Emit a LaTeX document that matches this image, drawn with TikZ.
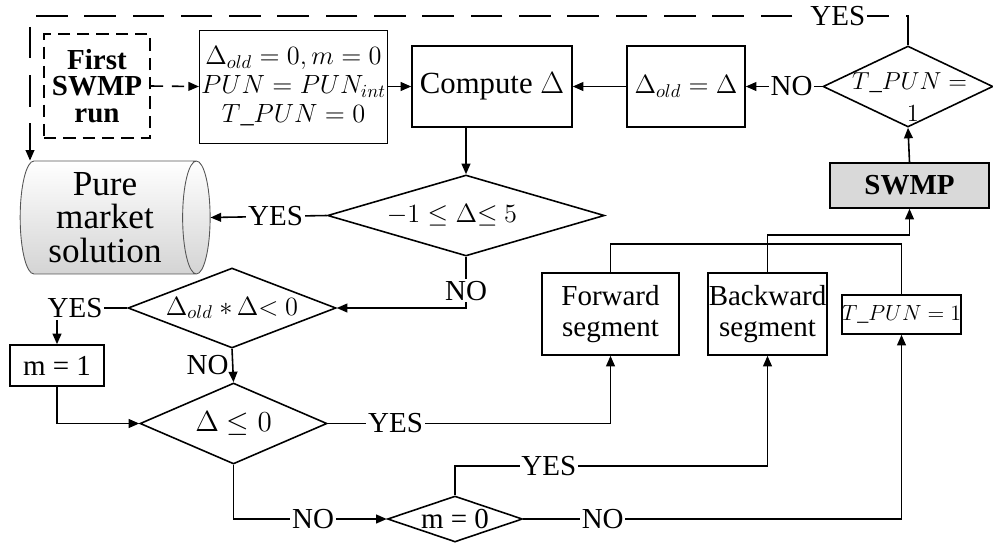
\RequirePackage{fix-cm}
\documentclass[tikz,border=0pt]{standalone}
\usepackage{fontspec}
\setmainfont{Liberation Serif}
\newfontfamily\diagfont{Liberation Serif}
\usepackage{tikz}
\usetikzlibrary{shapes.geometric, arrows.meta, positioning, calc}
\definecolor{swmpgray}{RGB}{217, 217, 217}
\definecolor{cylgray}{RGB}{212, 212, 212}
\definecolor{edgegray}{RGB}{85, 85, 85}

\tikzset{
    every node/.style={font=\diagfont\fontsize{16.5}{17.5}\selectfont},
    procbox/.style={draw, line width=0.9pt, align=center, inner sep=1pt},
    decision/.style={draw, diamond, line width=0.9pt, inner sep=0pt},
    lbl/.style={fill=white, inner sep=1pt},
    conn/.style={line width=0.9pt, -{Triangle[length=6pt, width=5pt]}},
    link/.style={line width=0.9pt}
}

\begin{document}
\begin{tikzpicture}[x=0.02cm, y=-0.02cm]
        \useasboundingbox (0,0) rectangle (993,545);

        % Start and initialisation
        \node[procbox, dash pattern=on 7pt off 4pt, minimum width=2.12cm, minimum height=2.08cm,
            font=\diagfont\fontsize{16.5}{15}\selectfont\bfseries] (first) at (97,86) {First\\SWMP\\run};
        \node[procbox, line width=0.5pt, minimum width=3.74cm, minimum height=2.26cm,
            font=\diagfont\fontsize{15}{16.5}\selectfont] (init) at (293.5,86.5)
            {$\Delta_{old}=0, m=0$\\$PUN=PUN_{int}$\\$T\_PUN=0$};
        \node[procbox, minimum width=3.2cm, minimum height=1.62cm,
            font=\diagfont\fontsize{17.5}{18}\selectfont] (comp) at (492,86.5) {Compute $\Delta$};
        \node[procbox, minimum width=2.36cm, minimum height=1.62cm,
            font=\diagfont\fontsize{15}{17}\selectfont] (dold) at (686,86.5) {$\Delta_{old}=\Delta$};

        % Top right decision and SWMP
        \node[decision, minimum width=3.4cm, minimum height=1.62cm] (dt) at (908,86.5) {};
        \node[align=center, font=\diagfont\fontsize{14}{17}\selectfont] (dttext) at (913,97) {$T\_PUN={}$\\[1pt]$1$};
        \node[procbox, fill=swmpgray, minimum width=3.18cm, minimum height=0.9cm,
            font=\diagfont\fontsize{16.5}{17}\selectfont\bfseries] (swmp) at (909.5,185.5) {SWMP};

        % Result store
        \node[cylinder, draw=edgegray, line width=0.5pt, top color=white, bottom color=cylgray,
            aspect=0.27, minimum height=3.8cm, minimum width=2.26cm, align=center,
            font=\diagfont\fontsize{20}{19}\selectfont] (pure) at (105,217.5) {Pure\\market\\solution};

        % Middle decisions
        \node[decision, minimum width=5.54cm, minimum height=1.62cm] (d1) at (466,215.5) {};
        \node[font=\diagfont\fontsize{15}{17}\selectfont] (d1text) at (452,215.5) {$-1\leq\Delta{\leq}\ 5$};
        \node[decision, minimum width=4.16cm, minimum height=1.6cm] (d2) at (232,308) {};
        \node[font=\diagfont\fontsize{15}{17}\selectfont] (d2text) at (232,308) {$\Delta_{old}\ {*}\,\Delta{<}\ 0$};
        \node[procbox, minimum width=1.88cm, minimum height=0.82cm] (mone) at (57,365.5) {m = 1};
        \node[decision, minimum width=3.74cm, minimum height=1.62cm] (d3) at (233.5,423.5) {};
        \node (d3text) at (233.5,423.5) {$\Delta\leq 0$};
        \node[decision, minimum width=2.7cm, minimum height=0.92cm] (d4) at (455,519) {};
        \node (d4text) at (455,519) {m = 0};

        % Segment boxes
        \node[procbox, minimum width=2.74cm, minimum height=1.64cm] (fwd) at (610.5,314) {Forward\\segment};
        \node[procbox, inner sep=0pt, minimum width=2.38cm, minimum height=1.64cm] (bwd) at (767.5,314) {Backward\\segment};
        \node[procbox, inner sep=0pt, minimum width=2.22cm, minimum height=0.78cm,
            font=\diagfont\fontsize{12.5}{15}\selectfont] (tpun) at (901.5,314.5) {$T\_PUN=1$};

        % Connectors
        \coordinate (corner) at (30,16);
        \draw[conn, dash pattern=on 18pt off 9.5pt] (dt.north) |- node[lbl, pos=0.54] {YES} (corner) -- (corner |- pure.north);
        \draw[conn, dash pattern=on 7pt off 5pt] (first.east) -- (init.west);
        \draw[conn] (init.east) -- (comp.west);
        \draw[conn] (dold.west) -- (comp.east);
        \draw[conn] (dt.west) -- node[lbl, pos=0.4] {NO} (dold.east);
        \draw[conn] (swmp.north) -- (dt.south);
        \draw[conn] (d1.north |- comp.south) -- (d1.north);
        \draw[conn] (d1.west) -- node[lbl, pos=0.44] {YES} (pure.east);
        \draw[conn] (d1.south) |- node[lbl, pos=0.33] {NO} (d2.east);
        \draw[conn] (d2.west) -| node[lbl, pos=0.5, xshift=0.36cm] {YES} (mone.north);
        \draw[conn] (mone.south) |- (d3.west);
        \draw[conn] (d2.south) -- node[left, inner sep=2pt] {NO} (d3.north);
        \draw[conn] (d3.east) -| node[lbl, pos=0.12] {YES} (fwd.south);
        \draw[conn] (d3.south) |- node[lbl, pos=0.76] {NO} (d4.west);
        \draw[conn] (d4.north) -- ++(0,-29) -| node[lbl, pos=0.15] {YES} (bwd.south);
        \draw[conn] (d4.east) -| node[lbl, pos=0.105] {NO} (tpun.south);
        \draw[link] (fwd.north) -- ++(0,-28) -| (tpun.north);
        \draw[conn] (bwd.north) -- ++(0,-37) -| (swmp.south);
\end{tikzpicture}
\end{document}
